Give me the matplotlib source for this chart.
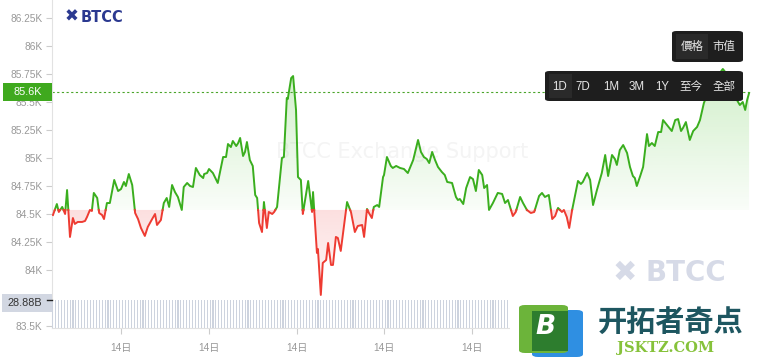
import numpy as np
import matplotlib
matplotlib.use('Agg')
import matplotlib.pyplot as plt
from matplotlib.patches import FancyBboxPatch, Rectangle

plt.rcParams['font.family'] = ['Liberation Sans', 'Noto Sans CJK TC', 'DejaVu Sans']

# price over one day (minutes from start, price in K USD)
t_min = [2,10,14,21,27,31,37,43,47,53,
         62,68,72,78,82,86,93,97,103,107,
         113,119,128,136,142,148,152,158,165,171,
         177,183,191,197,206,212,216,224,230,236,
         241,247,253,259,267,271,278,284,290,296,
         304,311,313,319,323,331,341,352,358,362,
         368,372,379,383,387,393,397,401,407,413,
         418,422,426,432,436,442,446,453,457,463,
         473,477,483,485,492,496,502,506,512,516,
         527,535,537,545,547,553,557,564,568,574,
         578,584,588,594,599,607,615,623,629,638,
         642,648,652,658,662,669,673,681,683,689,
         697,701,708,716,724,732,743,753,759,765,
         771,776,782,788,794,802,808,813,823,831,
         835,839,846,852,860,866,872,878,885,889,
         895,899,907,917,926,932,938,948,954,963,
         969,977,985,992,1002,1008,1014,1022,1029,1035,
         1041,1049,1053,1059,1064,1070,1082,1088,1092,1101,
         1107,1113,1121,1131,1138,1144,1152,1158,1162,1168,
         1175,1183,1189,1195,1199,1203,1210,1216,1224,1228,
         1234,1240,1247,1253,1257,1265,1275,1282,1288,1294,
         1298,1304,1312,1319,1327,1333,1341,1353,1366,1380,
         1390,1401,1409,1415,1421,1426,1430,1434]
price = [84.491,84.589,84.518,84.563,84.500,84.714,84.295,84.464,84.411,84.429,
         84.429,84.438,84.473,84.536,84.527,84.688,84.643,84.509,84.491,84.455,
         84.598,84.598,84.804,84.705,84.723,84.786,84.750,84.857,84.759,84.509,
         84.455,84.375,84.304,84.384,84.455,84.500,84.402,84.446,84.598,84.643,
         84.563,84.759,84.696,84.652,84.536,84.741,84.777,84.750,84.741,84.911,
         84.848,84.821,84.857,84.866,84.902,84.866,84.777,85.009,85.009,85.125,
         85.098,85.152,85.107,85.134,85.179,85.018,85.054,85.143,84.982,84.929,
         84.670,84.643,84.420,84.339,84.607,84.375,84.518,84.500,84.518,84.563,
         85.000,85.009,85.536,85.527,85.714,85.732,85.429,84.830,84.804,84.500,
         84.795,84.518,84.696,84.152,84.188,83.777,84.063,84.089,84.241,84.045,
         84.045,84.295,84.286,84.170,84.339,84.607,84.518,84.339,84.393,84.402,
         84.295,84.545,84.509,84.464,84.563,84.580,84.563,84.830,84.848,85.009,
         84.929,84.911,84.929,84.911,84.902,84.866,84.982,85.161,85.054,85.009,
         84.991,84.955,85.054,84.982,84.920,84.875,84.848,84.786,84.777,84.652,
         84.625,84.634,84.589,84.732,84.830,84.812,84.705,84.893,84.848,84.732,
         84.759,84.536,84.598,84.688,84.679,84.598,84.625,84.482,84.518,84.652,
         84.598,84.536,84.509,84.518,84.661,84.688,84.652,84.670,84.455,84.482,
         84.554,84.518,84.536,84.473,84.375,84.536,84.795,84.768,84.786,84.866,
         84.804,84.580,84.714,84.866,85.027,84.839,85.027,84.991,84.938,85.071,
         85.116,85.045,84.920,84.839,84.821,84.750,84.839,84.920,85.214,85.107,
         85.134,85.107,85.232,85.232,85.339,85.295,85.241,85.339,85.348,85.241,
         85.268,85.321,85.161,85.241,85.277,85.339,85.491,85.625,85.714,85.795,
         85.741,85.607,85.518,85.473,85.500,85.429,85.518,85.580]

base_price = 84.536     # open price, green above / red below
last_price = 85.589
last_label = '85.6K'
vol_label = '28.88B'

# volume (B) every 6 minutes, visible part only
vol = [28.6,28.9,28.4,28.8,28.7,28.9,28.5,28.8,28.6,28.9,
       28.7,28.4,28.9,28.6,28.8,28.5,28.9,28.7,28.6,28.8,
       28.9,28.5,28.7,28.8,28.4,28.9,28.6,28.8,28.7,28.5,
       28.9,28.6,28.8,28.7,28.9,28.4,28.8,28.6,28.9,28.7,
       28.5,28.8,28.9,28.6,28.7,28.8,28.5,28.9,28.6,28.8,
       28.7,28.9,28.6,28.8,28.5,28.7,28.9,28.6,28.8,28.7,
       28.9,28.5,28.8,28.6,28.9,28.7,28.8,28.6,28.5,28.9,
       28.7,28.8,28.6,28.9,28.7,28.5,28.8,28.9,28.6,28.7,
       28.8,28.6,28.9,28.7,28.5,28.8,28.6,28.9,28.7,28.8,
       28.6,28.9,28.5,28.7,28.8,28.6,28.9,28.7,28.8,28.5,
       28.9,28.6,28.7,28.8,28.9,28.6,28.5,28.8,28.7,28.9,
       28.6,28.8,28.7,28.5,28.9,28.6,28.8,28.7,28.9,28.6,
       28.8,28.5,28.7,28.9,28.6,28.8,28.7,28.9,28.5,28.8,
       28.6,28.9,28.7,28.8,28.6,28.5,28.9,28.7,28.8,28.6,
       28.9,28.7,28.5,28.8,28.6,28.9,28.7,28.8,28.6,28.9,
       28.7,28.5,28.8,28.6,28.9,28.7,28.8,28.6,28.9,28.7]
vol_t = np.arange(len(vol)) * 6

# 83.75K sits under the volume label and is not shown
yticks = [83.5, 84, 84.25, 84.5, 84.75, 85, 85.25, 85.5, 85.75, 86, 86.25]
ytick_labels = ['83.5K', '84K', '84.25K', '84.5K', '84.75K', '85K',
                '85.25K', '85.5K', '85.75K', '86K', '86.25K']
# later ticks are hidden under the logo overlay
xticks = [142, 323, 504, 683, 864]
xtick_labels = ['14日'] * len(xticks)

range_buttons = ['1D', '7D', '1M', '3M', '1Y', '至今', '全部']

GREEN = '#3aae1e'
RED = '#ee3b32'

W, H = 759, 361
fig = plt.figure(figsize=(W / 100, H / 100), dpi=100)
fig.patch.set_facecolor('white')

def fx(px):
    return px / W

def fy(py):
    return 1 - py / H

ax = fig.add_axes([fx(52), 33 / H, 700 / W, 328 / H])
ax.set_xlim(0, 1440)
ax.set_ylim(83.482, 86.411)
for s in ['top', 'right']:
    ax.spines[s].set_visible(False)
ax.spines['left'].set_color('#e2e2e2')
ax.spines['bottom'].set_color('#e2e2e2')
ax.set_yticks(yticks)
ax.set_yticklabels(ytick_labels)
ax.set_xticks(xticks)
ax.set_xticklabels(xtick_labels)
ax.tick_params(axis='y', length=4, color='#cccccc', labelsize=7.3, labelcolor='#999999', pad=3)
ax.tick_params(axis='x', length=4, color='#cccccc', labelsize=7.3, labelcolor='#999999', pad=7)

# volume
vax = fig.add_axes([fx(52), 33 / H, 700 / W, 30 / H])
vax.set_xlim(0, 1440)
vax.set_ylim(0, 30.5)
vax.axis('off')
vax.bar(vol_t, vol, width=2.3, color='#cdd3de', linewidth=0, align='edge')

# insert base crossings so the colour switches exactly at the open price
t = np.asarray(t_min, float)
p = np.asarray(price, float)
tt, pp = [t[0]], [p[0]]
for i in range(1, len(t)):
    a, b = p[i - 1] - base_price, p[i] - base_price
    if a * b < 0:
        f = a / (a - b)
        tt.append(t[i - 1] + f * (t[i] - t[i - 1]))
        pp.append(base_price)
    tt.append(t[i])
    pp.append(p[i])
tt = np.array(tt)
pp = np.array(pp)

# gradient fills
poly_g = ax.fill_between(tt, np.maximum(pp, base_price), base_price, color='none', lw=0)
grad = np.zeros((100, 1, 4))
grad[:, 0, :3] = matplotlib.colors.to_rgb('#4cc230')
grad[:, 0, 3] = np.linspace(0.03, 0.27, 100)
im = ax.imshow(grad, extent=[0, 1440, base_price, 85.85], aspect='auto', origin='lower', zorder=1)
im.set_clip_path(poly_g.get_paths()[0], ax.transData)

poly_r = ax.fill_between(tt, np.minimum(pp, base_price), base_price, color='none', lw=0)
grad_r = np.zeros((100, 1, 4))
grad_r[:, 0, :3] = matplotlib.colors.to_rgb('#f26060')
grad_r[:, 0, 3] = np.linspace(0.04, 0.2, 100)
im2 = ax.imshow(grad_r, extent=[0, 1440, 83.75, base_price], aspect='auto', origin='lower', zorder=1)
im2.set_clip_path(poly_r.get_paths()[0], ax.transData)
ax.set_xlim(0, 1440)
ax.set_ylim(83.482, 86.411)

eps = 1e-9
ax.plot(tt, np.where(pp >= base_price - eps, pp, np.nan), color=GREEN, lw=1.4,
        solid_joinstyle='round', zorder=3)
ax.plot(tt, np.where(pp <= base_price + eps, pp, np.nan), color=RED, lw=1.4,
        solid_joinstyle='round', zorder=3)

ax.axhline(last_price, color='#4aa52a', lw=0.8, ls=(0, (2, 2.2)), zorder=2)

# faint centre watermark
ax.text(720, 85.05, 'BTCC Exchange Support', fontsize=15, color='#f4f4f4',
        ha='center', va='center', family='DejaVu Sans', zorder=0.5)

# price label on the axis
fig.add_artist(Rectangle((fx(3), fy(101)), 49 / W, 18 / H, color='#3fa91e', lw=0))
fig.text(fx(27.5), fy(92), last_label, color='white', fontsize=7.8, ha='center', va='center')

# volume label
fig.add_artist(Rectangle((fx(2), fy(312)), 50 / W, 18 / H, color='#d2d7e2', lw=0))
fig.text(fx(25), fy(302.5), vol_label, color='#333333', fontsize=7.8, ha='center', va='center')
fig.add_artist(plt.Line2D([fx(47), fx(52)], [fy(300), fy(300)], color='#222222', lw=1))

# BTCC logo top left
fig.text(fx(72), fy(17), '✖', color='#2b3990', fontsize=12, ha='center', va='center',
         family='DejaVu Sans', weight='bold')
fig.text(fx(81), fy(17), 'BTCC', color='#2b3990', fontsize=10.5, ha='left', va='center',
         family='DejaVu Sans', weight='bold')

# big watermark bottom right
fig.text(fx(625), fy(273), '✖', color='#d6dae7', fontsize=21, ha='center', va='center',
         family='DejaVu Sans', weight='bold')
fig.text(fx(646), fy(273), 'BTCC', color='#d6dae7', fontsize=20, ha='left', va='center',
         family='DejaVu Sans', weight='bold')

# buttons
fig.add_artist(FancyBboxPatch((fx(672), fy(62)), 71 / W, 31 / H,
                              boxstyle='round,pad=0,rounding_size=0.006', color='#1e1e1e', lw=0))
fig.add_artist(Rectangle((fx(676), fy(59)), 32 / W, 25 / H, color='#2a2a2a', lw=0))
fig.text(fx(692), fy(47), '價格', color='#e6e6e6', fontsize=8.3, ha='center', va='center')
fig.text(fx(724), fy(47), '市值', color='#e6e6e6', fontsize=8.3, ha='center', va='center')

fig.add_artist(FancyBboxPatch((fx(545), fy(101)), 198 / W, 30 / H,
                              boxstyle='round,pad=0,rounding_size=0.006', color='#1e1e1e', lw=0))
fig.add_artist(Rectangle((fx(549), fy(98)), 23 / W, 24 / H, color='#2a2a2a', lw=0))
btn_x = [560, 583, 611, 637, 662, 691, 724]
for bx, lab in zip(btn_x, range_buttons):
    fig.text(fx(bx), fy(87), lab, color='#e6e6e6', fontsize=8.3, ha='center', va='center')

# site logo image overlay bottom right
fig.add_artist(Rectangle((fx(510), 0), 249 / W, 63 / H, color='white', lw=0))
fig.add_artist(FancyBboxPatch((fx(532), fy(357)), 51 / W, 47 / H,
                              boxstyle='round,pad=0,rounding_size=0.008', color='#2f8fe2', lw=0))
fig.add_artist(FancyBboxPatch((fx(519), fy(353)), 49 / W, 48 / H,
                              boxstyle='round,pad=0,rounding_size=0.008', color='#6cb43a', lw=0))
fig.add_artist(Rectangle((fx(532), fy(351)), 36 / W, 40 / H, color='#2d7d2e', lw=0))
fig.text(fx(546), fy(327), 'B', color='white', fontsize=19, ha='center', va='center',
         family='DejaVu Sans', weight='bold', style='italic')
fig.text(fx(671), fy(323), '开拓者奇点', color='#1d5660', fontsize=21, ha='center', va='center',
         family='Noto Sans CJK SC', weight='bold')
fig.text(fx(666), fy(348), 'JSKTZ.COM', color='#86c23a', fontsize=10.5, ha='center', va='center',
         family='DejaVu Serif', weight='bold')

fig.savefig('out.png', dpi=100)
